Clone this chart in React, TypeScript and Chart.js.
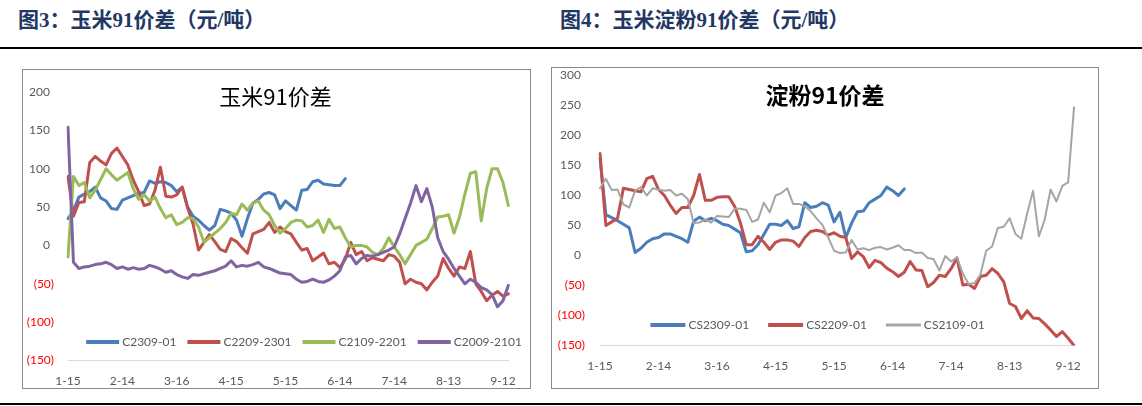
import React, { useEffect, useRef } from 'react';
import { Chart, registerables } from 'chart.js';

Chart.register(...registerables);

// ---------- categories (one point every 3 calendar days from 1-15) ----------
const STEP_DAYS = 3;
const POINT_COUNT = 82;
const CATEGORIES: string[] = Array.from({ length: POINT_COUNT }, (_, i) => {
  const dt = new Date(2021, 0, 15 + i * STEP_DAYS);
  return `${dt.getMonth() + 1}-${dt.getDate()}`;
});
const TICK_EVERY = 10; // 30 days: 1-15, 2-14, 3-16, 4-15, 5-15, 6-14, 7-14, 8-13, 9-12

// ---------- left chart: 玉米91价差 ----------
const C2309_01 = [35, 45, 63, 67, 70, 76, 62, 58, 48, 47, 59, 62, 65, 68, 69, 84, 81, 83, 82, 78, 70, 76, 50, 38, 33, 26, 20, 26, 47, 45, 42, 33, 12, 35, 55, 60, 67, 69, 66, 48, 58, 52, 46, 72, 73, 83, 85, 80, 79, 78, 78, 87];
const C2209_2301 = [90, 38, 56, 57, 108, 116, 110, 105, 120, 127, 116, 105, 85, 70, 52, 54, 72, 102, 64, 63, 66, 76, 49, 28, -6, 4, 14, 5, -5, -8, 9, 5, -3, -10, 15, 18, 21, 30, 17, 24, 18, 15, 4, -6, -4, -20, -15, -10, -24, -22, -29, -18, 4, -12, -8, -20, -16, -18, -20, -12, -14, -22, -50, -44, -48, -50, -58, -48, -40, -17, -30, -40, -28, -30, -8, -50, -60, -72, -65, -60, -66, -63];
const C2109_2201 = [-15, 90, 78, 82, 62, 72, 86, 100, 92, 85, 90, 95, 74, 60, 66, 58, 63, 48, 36, 40, 27, 30, 36, 35, 24, 4, 10, 16, 22, 30, 42, 40, 54, 46, 55, 58, 46, 40, 26, 16, 22, 30, 33, 32, 24, 26, 33, 17, 34, 22, 24, 10, -2, 0, 0, -2, -9, -12, -4, 10, -2, -12, -24, -12, 0, 4, 8, 22, 37, 38, 40, 16, 37, 67, 94, 96, 32, 74, 100, 100, 82, 52];
const C2009_2101 = [154, -22, -30, -28, -27, -25, -24, -22, -25, -30, -28, -31, -29, -31, -30, -26, -28, -31, -35, -33, -38, -41, -43, -38, -39, -37, -35, -33, -30, -27, -20, -28, -26, -27, -25, -22, -28, -30, -33, -36, -37, -38, -44, -48, -47, -44, -47, -48, -45, -40, -33, -15, -13, -24, -17, -13, -14, -12, -9, -6, -2, 15, 35, 55, 78, 57, 74, 50, 10, -8, -18, -30, -40, -50, -44, -48, -55, -58, -64, -80, -72, -52];

// ---------- right chart: 淀粉91价差 ----------
const CS2309_01 = [162, 68, 63, 58, 52, 46, 5, 12, 22, 28, 30, 36, 36, 32, 28, 22, 57, 64, 58, 62, 58, 52, 50, 44, 38, 6, 8, 18, 35, 52, 52, 50, 58, 45, 48, 88, 80, 82, 88, 84, 56, 72, 30, 54, 73, 74, 88, 94, 100, 114, 108, 100, 111];
const CS2209_01 = [170, 50, 56, 62, 112, 110, 108, 106, 128, 132, 110, 100, 84, 70, 80, 80, 100, 135, 92, 92, 97, 98, 98, 82, 54, 18, 18, 32, 22, 10, 22, 26, 26, 24, 15, 30, 40, 42, 40, 34, 38, 32, 30, -5, 6, -2, -20, -8, -12, -21, -27, -35, -28, -10, -24, -25, -52, -45, -33, -35, -22, -4, -49, -48, -55, -35, -33, -22, -30, -44, -80, -85, -105, -92, -104, -105, -114, -124, -135, -127, -138, -150];
const CS2109_01 = [112, 128, 109, 110, 85, 80, 108, 114, 100, 112, 110, 108, 109, 100, 103, 94, 54, 55, 60, 55, 66, 65, 64, 78, 78, 76, 56, 60, 88, 72, 100, 104, 112, 86, 86, 82, 74, 62, 51, 30, 8, 4, 5, 26, 10, 12, 9, 13, 14, 10, 13, 17, 9, 9, 4, 5, -4, -6, -25, -1, -10, -3, -30, -48, -46, -32, 8, 15, 46, 48, 62, 36, 28, 70, 108, 32, 60, 110, 90, 116, 122, 247];

const LEFT_Y = { min: -150, max: 200, step: 50 };
const RIGHT_Y = { min: -150, max: 300, step: 50 };

const BLUE = '#4a7ebb';
const RED = '#c0504d';
const GREEN = '#9bbb59';
const PURPLE = '#8064a2';
const GRAY = '#a5a5a5';

const AXIS_FONT = "Lato, 'Noto Sans', sans-serif";
const LABEL_COLOR = '#595959';

type Series = { label: string; data: number[]; color: string; width: number; legendWidth: number; order: number };

type PanelProps = {
  box: { left: number; top: number; width: number; height: number };
  series: Series[];
  y: { min: number; max: number; step: number };
  padding: { top: number; right: number; bottom: number; left: number };
  yAxisWidth: number;
  xAxisHeight: number;
  yTickGap: number;
  xTickPadding: number;
  fontSize: number;
  title: { text: string; font: string; x: number; y: number };
  legend: { cx: number; cy: number; fontSize: number; line: number; gap: number; spacing: number };
};

function Panel(p: PanelProps) {
  const ref = useRef<HTMLCanvasElement | null>(null);
  useEffect(() => {
    const canvas = ref.current;
    if (!canvas) return;
    const decor = {
      id: 'decor',
      afterDraw(chart: any) {
        const ctx = chart.ctx as CanvasRenderingContext2D;
        ctx.save();
        ctx.font = p.title.font;
        ctx.fillStyle = '#000000';
        ctx.textAlign = 'center';
        ctx.textBaseline = 'middle';
        ctx.fillText(p.title.text, p.title.x, p.title.y);

        ctx.font = `${p.legend.fontSize}px ${AXIS_FONT}`;
        ctx.textAlign = 'left';
        const widths = p.series.map((s) => p.legend.line + p.legend.gap + ctx.measureText(s.label).width);
        const total = widths.reduce((a, b) => a + b, 0) + p.legend.spacing * (widths.length - 1);
        let x = p.legend.cx - total / 2;
        p.series.forEach((s, i) => {
          ctx.strokeStyle = s.color;
          ctx.lineWidth = s.legendWidth;
          ctx.lineCap = 'butt';
          ctx.beginPath();
          ctx.moveTo(x, p.legend.cy);
          ctx.lineTo(x + p.legend.line, p.legend.cy);
          ctx.stroke();
          ctx.fillStyle = LABEL_COLOR;
          ctx.fillText(s.label, x + p.legend.line + p.legend.gap, p.legend.cy + 0.5);
          x += widths[i] + p.legend.spacing;
        });
        ctx.restore();
      },
    };
    const chart = new Chart(canvas, {
      type: 'line',
      data: {
        labels: CATEGORIES,
        datasets: p.series.map((s) => ({
          label: s.label,
          data: s.data,
          borderColor: s.color,
          backgroundColor: s.color,
          borderWidth: s.width,
          pointRadius: 0,
          pointHoverRadius: 0,
          tension: 0,
          fill: false,
          order: s.order,
          borderJoinStyle: 'round',
          borderCapStyle: 'round',
        })),
      },
      options: {
        animation: false,
        responsive: true,
        maintainAspectRatio: false,
        events: [],
        layout: { padding: p.padding },
        plugins: { legend: { display: false }, tooltip: { enabled: false }, title: { display: false } },
        scales: {
          x: {
            type: 'category',
            grid: { display: true, drawOnChartArea: false, drawTicks: false, color: 'rgba(0,0,0,0)' },
            border: { display: true, color: '#d9d9d9', width: 1 },
            ticks: {
              autoSkip: false,
              maxRotation: 0,
              minRotation: 0,
              padding: p.xTickPadding,
              color: LABEL_COLOR,
              font: { family: AXIS_FONT, size: p.fontSize },
              callback: (_v: any, i: number) => (i % TICK_EVERY === 0 ? CATEGORIES[i] : ''),
            },
            afterFit: (s: any) => {
              s.height = p.xAxisHeight;
            },
          },
          y: {
            min: p.y.min,
            max: p.y.max,
            grid: { display: false, drawTicks: true, tickLength: p.yTickGap },
            border: { display: false },
            ticks: {
              stepSize: p.y.step,
              padding: 0,
              font: { family: AXIS_FONT, size: p.fontSize },
              color: (c: any) => (c.tick && c.tick.value < 0 ? '#ff0000' : LABEL_COLOR),
              callback: (v: any) => (Number(v) < 0 ? `(${Math.abs(Number(v))})` : `${v}\u2004`),
            },
            afterFit: (s: any) => {
              s.width = p.yAxisWidth;
            },
          },
        },
      } as any,
      plugins: [decor],
    });
    return () => chart.destroy();
  }, []);
  return (
    <div
      style={{
        position: 'absolute',
        left: p.box.left,
        top: p.box.top,
        width: p.box.width,
        height: p.box.height,
        border: '1px solid #8a8a8a',
        boxSizing: 'border-box',
        background: '#fff',
      }}
    >
      <canvas ref={ref} />
    </div>
  );
}

const LEFT_SERIES: Series[] = [
  { label: 'C2309-01', data: C2309_01, color: BLUE, width: 3, legendWidth: 4, order: 3 },
  { label: 'C2209-2301', data: C2209_2301, color: RED, width: 3, legendWidth: 4, order: 2 },
  { label: 'C2109-2201', data: C2109_2201, color: GREEN, width: 3, legendWidth: 4, order: 1 },
  { label: 'C2009-2101', data: C2009_2101, color: PURPLE, width: 3, legendWidth: 4, order: 0 },
];

const RIGHT_SERIES: Series[] = [
  { label: 'CS2309-01', data: CS2309_01, color: BLUE, width: 3, legendWidth: 4, order: 2 },
  { label: 'CS2209-01', data: CS2209_01, color: RED, width: 3, legendWidth: 4, order: 1 },
  { label: 'CS2109-01', data: CS2109_01, color: GRAY, width: 2, legendWidth: 3, order: 0 },
];

const HEADER_FONT = "'Liberation Serif', 'Noto Sans CJK SC', serif";

export default function App() {
  return (
    <div style={{ position: 'absolute', left: 0, top: 0, width: 1142, height: 406, background: '#fff', overflow: 'hidden' }}>
      <div style={{ position: 'absolute', left: 18, top: 9, fontFamily: HEADER_FONT, fontWeight: 'bold', fontSize: 21, lineHeight: '22px', color: '#1f3864', whiteSpace: 'nowrap' }}>
        图3：玉米91价差（元/吨）
      </div>
      <div style={{ position: 'absolute', left: 560, top: 9, fontFamily: HEADER_FONT, fontWeight: 'bold', fontSize: 21, lineHeight: '22px', color: '#1f3864', whiteSpace: 'nowrap' }}>
        图4：玉米淀粉91价差（元/吨）
      </div>
      <div style={{ position: 'absolute', left: 0, top: 47, width: 1142, height: 2, background: '#000' }} />
      <Panel
        box={{ left: 22, top: 69, width: 509, height: 320 }}
        series={LEFT_SERIES}
        y={LEFT_Y}
        padding={{ top: 22, right: 21.6, bottom: 0, left: 0 }}
        yAxisWidth={45}
        xAxisHeight={27.5}
        yTickGap={14}
        xTickPadding={13}
        fontSize={12}
        title={{ text: '玉米91价差', font: "22px 'Noto Sans CJK SC', sans-serif", x: 252.5, y: 27 }}
        legend={{ cx: 281, cy: 272, fontSize: 12, line: 33, gap: 3, spacing: 11 }}
      />
      <Panel
        box={{ left: 551, top: 67, width: 548, height: 322 }}
        series={RIGHT_SERIES}
        y={RIGHT_Y}
        padding={{ top: 7.5, right: 24, bottom: 15, left: 0 }}
        yAxisWidth={48}
        xAxisHeight={27.5}
        yTickGap={15}
        xTickPadding={13}
        fontSize={12}
        title={{ text: '淀粉91价差', font: "bold 23px 'Noto Sans CJK SC', sans-serif", x: 273, y: 27 }}
        legend={{ cx: 265.5, cy: 257, fontSize: 12, line: 35, gap: 3, spacing: 19 }}
      />
      <div style={{ position: 'absolute', left: 0, top: 403, width: 1142, height: 2, background: '#000' }} />
    </div>
  );
}
